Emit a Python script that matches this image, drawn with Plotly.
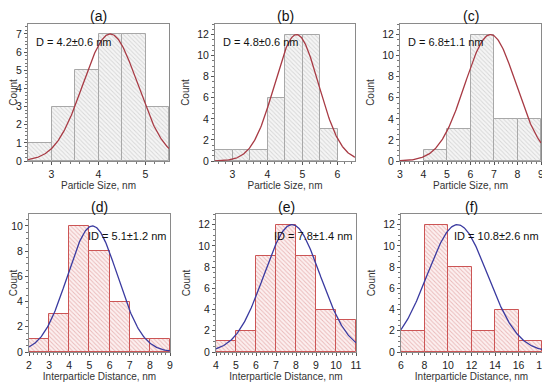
import numpy as np
import plotly.graph_objects as go

# ---- data ----
panel_labels = ["(a)", "(b)", "(c)", "(d)", "(e)", "(f)"]
annot_texts = ["D = 4.2\u00b10.6 nm", "D = 4.8\u00b10.6 nm", "D = 6.8\u00b11.1 nm",
               "ID = 5.1\u00b11.2 nm", "ID = 7.8\u00b11.4 nm", "ID = 10.8\u00b12.6 nm"]
x_titles = ["Particle Size, nm"] * 3 + ["Interparticle Distance, nm"] * 3

a_edges = [2.5, 3.0, 3.5, 4.0, 4.5, 5.0, 5.5]
a_counts = [1, 3, 5, 7, 7, 3]
b_edges = [2.5, 3.0, 3.5, 4.0, 4.5, 5.0, 5.5, 6.0]
b_counts = [1, 1, 1, 6, 12, 12, 3]
c_edges = [4, 5, 6, 7, 8, 9]
c_counts = [1, 3, 12, 4, 4]
d_edges = [2, 3, 4, 5, 6, 7, 8, 9]
d_counts = [1, 3, 10, 8, 4, 1, 1]
e_edges = [4, 5, 6, 7, 8, 9, 10, 11]
e_counts = [1, 2, 9, 12, 9, 4, 3]
f_edges = [6, 8, 10, 12, 14, 16, 18]
f_counts = [2, 12, 8, 2, 4, 1]

# Gaussian fit parameters (centre, sigma, amplitude)
fit_mu = [4.25, 4.83, 6.85, 5.15, 7.8, 10.8]
fit_sigma = [0.58, 0.63, 1.09, 1.24, 1.4, 2.57]
fit_amp = [7, 12, 12, 10, 12, 12]

x_ranges = [[2.5, 5.5], [2.5, 6.5], [3, 9], [2, 9], [4, 11], [6, 18]]
y_ranges = [[0, 7.55], [0, 13], [0, 13], [0, 10.95], [0, 13], [0, 13]]
x_dtick = [1, 1, 1, 1, 1, 2]
y_dtick = [1, 2, 2, 2, 2, 2]

edges_all = [a_edges, b_edges, c_edges, d_edges, e_edges, f_edges]
counts_all = [a_counts, b_counts, c_counts, d_counts, e_counts, f_counts]

# ---- layout in pixels (page body has an 8px margin) ----
OFF = 8
W, H = 550 - OFF, 383 - OFF
boxes = [(28, 169, 24, 161), (215, 355, 24, 161), (400, 541, 24, 161),
         (29, 170, 214, 352), (216, 356, 214, 352), (401, 542, 214, 352)]

def px(x):
    return (x - OFF) / W

def py(y):
    return 1 - (y - OFF) / H

fig = go.Figure()
font = "Liberation Sans, Arial, sans-serif"
annotations = []

for i in range(6):
    top_row = i < 3
    xa = "x" if i == 0 else f"x{i+1}"
    ya = "y" if i == 0 else f"y{i+1}"
    edges = edges_all[i]
    counts = counts_all[i]
    centers = [(edges[k] + edges[k + 1]) / 2 for k in range(len(counts))]
    widths = [edges[k + 1] - edges[k] for k in range(len(counts))]
    if top_row:
        bg, fg, line_c, curve_c = "#f5f5f5", "#b8b8b8", "#a8a8a8", "#a83a44"
    else:
        bg, fg, line_c, curve_c = "#fcf0f0", "#d98080", "#cc5555", "#3a3aa0"
    fig.add_trace(go.Bar(
        x=centers, y=counts, width=widths, xaxis=xa, yaxis=ya,
        marker=dict(color=bg, line=dict(color=line_c, width=1),
                    pattern=dict(shape="\\", fgcolor=fg, bgcolor=bg, size=3,
                                 solidity=0.3, fillmode="overlay")),
        showlegend=False, hoverinfo="skip"))
    xs = np.linspace(x_ranges[i][0], x_ranges[i][1], 200)
    ys = fit_amp[i] * np.exp(-((xs - fit_mu[i]) ** 2) / (2 * fit_sigma[i] ** 2))
    fig.add_trace(go.Scatter(x=xs, y=ys, mode="lines", xaxis=xa, yaxis=ya,
                             line=dict(color=curve_c, width=1.3),
                             showlegend=False, hoverinfo="skip"))

    x0, x1, y0, y1 = boxes[i]
    xdom = [px(x0), px(x1)]
    ydom = [py(y1), py(y0)]
    axkw = dict(showline=True, mirror=True, linecolor="#8a8a8a", linewidth=1,
                ticks="outside", ticklen=3, tickcolor="#555", showgrid=False,
                zeroline=False, automargin=False,
                tickfont=dict(size=10.5, color="#222", family=font),
                minor=dict(ticks="outside", ticklen=2, tickcolor="#777"))
    fig.update_layout(**{
        ("xaxis" if i == 0 else f"xaxis{i+1}"): dict(
            domain=xdom, range=x_ranges[i], dtick=x_dtick[i], tick0=0,
            anchor=ya, title=dict(text=x_titles[i], font=dict(size=10, color="#333", family=font), standoff=3),
            **axkw),
        ("yaxis" if i == 0 else f"yaxis{i+1}"): dict(
            domain=ydom, range=y_ranges[i], dtick=y_dtick[i], tick0=0,
            anchor=xa, title=dict(text="Count", font=dict(size=10, color="#333", family=font), standoff=5),
            **axkw),
    })
    # panel label
    annotations.append(dict(text=panel_labels[i], x=px((x0 + x1) / 2), y=py(y0 - 7.5),
                            xref="paper", yref="paper", xanchor="center", yanchor="middle",
                            showarrow=False, font=dict(size=14, color="#111", family=font)))
    # stats text
    if top_row:
        annotations.append(dict(text=annot_texts[i], x=px(x0 + 6), y=py(y0 + 18),
                                xref="paper", yref="paper", xanchor="left", yanchor="middle",
                                showarrow=False, font=dict(size=11, color="#111", family=font)))
    else:
        annotations.append(dict(text=annot_texts[i], x=px(x1 - 1), y=py(y0 + 22),
                                xref="paper", yref="paper", xanchor="right", yanchor="middle",
                                showarrow=False, font=dict(size=11, color="#111", family=font)))

fig.update_layout(width=W, height=H, margin=dict(l=0, r=0, t=0, b=0, autoexpand=False),
                  paper_bgcolor="white", plot_bgcolor="white", bargap=0,
                  annotations=annotations, font=dict(family=font))
fig.write_html("out.html")
